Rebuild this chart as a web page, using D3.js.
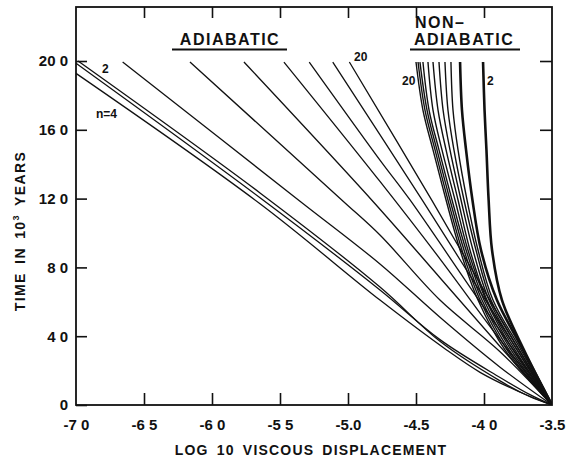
<!DOCTYPE html>
<html>
<head>
<meta charset="utf-8">
<title>viscous displacement</title>
<script src="https://d3js.org/d3.v7.min.js"></script>
<style>
body { margin: 0; background: #fff; }
text { font-family: "Liberation Sans", Arial, sans-serif; font-weight: bold; fill: #111; }
</style>
</head>
<body>
<script>
var xTicks = [-7.0, -6.5, -6.0, -5.5, -5.0, -4.5, -4.0, -3.5];
var xTickLabels = ["-7 0", "-6 5", "-6 0", "-5 5", "-5.0", "-4.5", "-4 0", "-3.5"];
var yTicks = [0, 40, 80, 120, 160, 200];
var yTickLabels = ["0", "4 0", "8 0", "12 0", "16 0", "20 0"];

// adiabatic curves: [log10 displacement, time in 10^3 years]
var adA = [[-6.985, 200], [-5.647, 123.3], [-4.765, 68.6], [-4.324, 37], [-3.882, 14], [-3.662, 4.8], [-3.5, 0]];
var adB = [[-7.0, 198.7], [-5.647, 120.5], [-4.765, 66.9], [-4.324, 38], [-3.882, 16], [-3.662, 6], [-3.5, 0]];
var adC = [[-7.0, 192.8], [-5.647, 117.0], [-4.765, 61.0], [-4.275, 32], [-4.029, 19], [-3.75, 8], [-3.5, 0]];
var adD = [[-6.657, 199.4], [-5.353, 118.5], [-4.765, 82], [-4.324, 51], [-3.882, 22], [-3.5, 0]];
var adE = [[-6.162, 199.4], [-5.046, 119.2], [-4.765, 98.8], [-4.324, 61], [-3.882, 31], [-3.5, 0]];
var adF = [[-5.765, 199.4], [-4.826, 119.2], [-4.324, 74], [-3.882, 34], [-3.5, 0]];
var adG = [[-5.471, 199.4], [-4.765, 130], [-4.324, 85], [-3.882, 38], [-3.5, 0]];
var adH = [[-5.285, 199.4], [-4.765, 142.4], [-4.544, 119.2], [-4.029, 60], [-3.5, 0]];
var adI = [[-5.112, 199.4], [-4.449, 118.5], [-4.029, 66], [-3.5, 0]];
var adJ = [[-4.990, 199.4], [-4.382, 118.8], [-3.95, 60], [-3.5, 0]];
var adiabatic = [adA, adB, adC, adD, adE, adF, adG, adH, adI, adJ];

// non-adiabatic curves: displacement read at these times
var nonAdTimes = [199.4, 171.5, 148.3, 119.2, 90.1, 61.0, 32.0, 0];
var nonAdX = [
  [-4.500, -4.449, -4.375, -4.279, -4.176, -4.044, -3.846, -3.5],
  [-4.485, -4.434, -4.360, -4.265, -4.162, -4.029, -3.831, -3.5],
  [-4.471, -4.419, -4.346, -4.250, -4.147, -4.015, -3.816, -3.5],
  [-4.449, -4.404, -4.331, -4.235, -4.132, -4.000, -3.801, -3.5],
  [-4.412, -4.375, -4.309, -4.213, -4.118, -3.985, -3.787, -3.5],
  [-4.375, -4.338, -4.279, -4.191, -4.103, -3.978, -3.772, -3.5],
  [-4.331, -4.301, -4.250, -4.169, -4.081, -3.963, -3.757, -3.5],
  [-4.287, -4.265, -4.221, -4.147, -4.059, -3.949, -3.743, -3.5],
  [-4.243, -4.228, -4.191, -4.125, -4.044, -3.934, -3.728, -3.5],
  [-4.176, -4.162, -4.132, -4.085, -4.022, -3.905, -3.713, -3.5],
  [-4.007, -3.996, -3.982, -3.966, -3.941, -3.868, -3.706, -3.5]
];
var nonAdBold = [false, false, false, false, false, false, false, false, false, true, true];

var w = 566, h = 458;
var svg = d3.select("body").append("svg")
    .attr("width", w)
    .attr("height", h);

var x = d3.scaleLinear().domain([-7, -3.5]).range([76, 552]);
var y = d3.scaleLinear().domain([0, 231.4]).range([405, 7]);

svg.append("clipPath").attr("id", "plot")
  .append("rect")
    .attr("x", 76).attr("y", 7)
    .attr("width", 476).attr("height", 398);

var line = d3.line()
    .x(function(d) { return x(d[0]); })
    .y(function(d) { return y(d[1]); })
    .curve(d3.curveCatmullRom.alpha(0.5));

var curves = svg.append("g").attr("clip-path", "url(#plot)");

curves.selectAll("path.ad")
    .data(adiabatic)
  .enter().append("path")
    .attr("class", "ad")
    .attr("d", line)
    .attr("fill", "none")
    .attr("stroke", "#111")
    .attr("stroke-width", 1.3);

curves.selectAll("path.nonad")
    .data(nonAdX)
  .enter().append("path")
    .attr("class", "nonad")
    .attr("d", function(xs) {
      return line(xs.map(function(v, i) { return [v, nonAdTimes[i]]; }));
    })
    .attr("fill", "none")
    .attr("stroke", "#111")
    .attr("stroke-width", function(d, i) { return nonAdBold[i] ? 2.6 : 1.4; });

// frame
svg.append("rect")
    .attr("x", 76).attr("y", 7)
    .attr("width", 476).attr("height", 398)
    .attr("fill", "none")
    .attr("stroke", "#111")
    .attr("stroke-width", 1.8);

function styleAxis(g) {
  g.select(".domain").remove();
  g.selectAll("line").attr("stroke", "#111").attr("stroke-width", 1.6);
  g.selectAll("text")
      .attr("fill", "#111")
      .style("font-family", "'Liberation Sans', Arial, sans-serif")
      .style("font-weight", "bold")
      .style("font-size", "15px");
}

var inner = xTicks.slice(1, -1);

svg.append("g")
    .attr("transform", "translate(0,405)")
    .call(d3.axisBottom(x).tickValues(xTicks).tickSize(0).tickPadding(14)
      .tickFormat(function(d, i) { return xTickLabels[i]; }))
    .call(styleAxis);
svg.append("g")
    .attr("transform", "translate(0,405)")
    .call(d3.axisBottom(x).tickValues(inner).tickSize(-12).tickFormat(""))
    .call(styleAxis);
svg.append("g")
    .attr("transform", "translate(0,7)")
    .call(d3.axisTop(x).tickValues(inner).tickSize(-11).tickFormat(""))
    .call(styleAxis);

svg.append("g")
    .attr("transform", "translate(76,0)")
    .call(d3.axisLeft(y).tickValues(yTicks).tickSize(-11).tickPadding(8)
      .tickFormat(function(d, i) { return yTickLabels[i]; }))
    .call(styleAxis);
svg.append("g")
    .attr("transform", "translate(552,0)")
    .call(d3.axisRight(y).tickValues(yTicks.slice(1)).tickSize(-12).tickFormat(""))
    .call(styleAxis);

// axis titles
svg.append("text")
    .attr("x", 311).attr("y", 455)
    .attr("text-anchor", "middle")
    .style("font-size", "14px")
    .style("letter-spacing", "1.2px")
    .style("word-spacing", "3px")
    .text("LOG 10 VISCOUS DISPLACEMENT");

var yl = svg.append("text")
    .attr("transform", "translate(25,231) rotate(-90)")
    .attr("text-anchor", "middle")
    .style("font-size", "14px")
    .style("letter-spacing", "1.4px")
    .style("word-spacing", "3px");
yl.append("tspan").text("TIME IN 10");
yl.append("tspan").attr("dy", -6).style("font-size", "9px").text("3");
yl.append("tspan").attr("dy", 6).text(" YEARS");

// family headings
svg.append("text")
    .attr("x", 230).attr("y", 45)
    .attr("text-anchor", "middle")
    .style("font-size", "16px")
    .style("letter-spacing", "1.5px")
    .text("ADIABATIC");
svg.append("line")
    .attr("x1", 172).attr("x2", 287).attr("y1", 49.5).attr("y2", 49.5)
    .attr("stroke", "#111").attr("stroke-width", 2);

svg.append("text")
    .attr("x", 415).attr("y", 28)
    .style("font-size", "16px")
    .style("letter-spacing", "1.5px")
    .text("NON\u2013");
svg.append("text")
    .attr("x", 414).attr("y", 45)
    .style("font-size", "16px")
    .style("letter-spacing", "1.5px")
    .text("ADIABATIC");
svg.append("line")
    .attr("x1", 410).attr("x2", 520).attr("y1", 49.5).attr("y2", 49.5)
    .attr("stroke", "#111").attr("stroke-width", 2);

// curve labels
function label(px, py, s) {
  svg.append("text")
      .attr("x", px).attr("y", py)
      .style("font-size", "12px")
      .text(s);
}
label(102, 73, "2");
label(96, 118, "n=4");
label(354, 61, "20");
label(402, 85, "20");
label(487, 85, "2");
</script>
</body>
</html>
